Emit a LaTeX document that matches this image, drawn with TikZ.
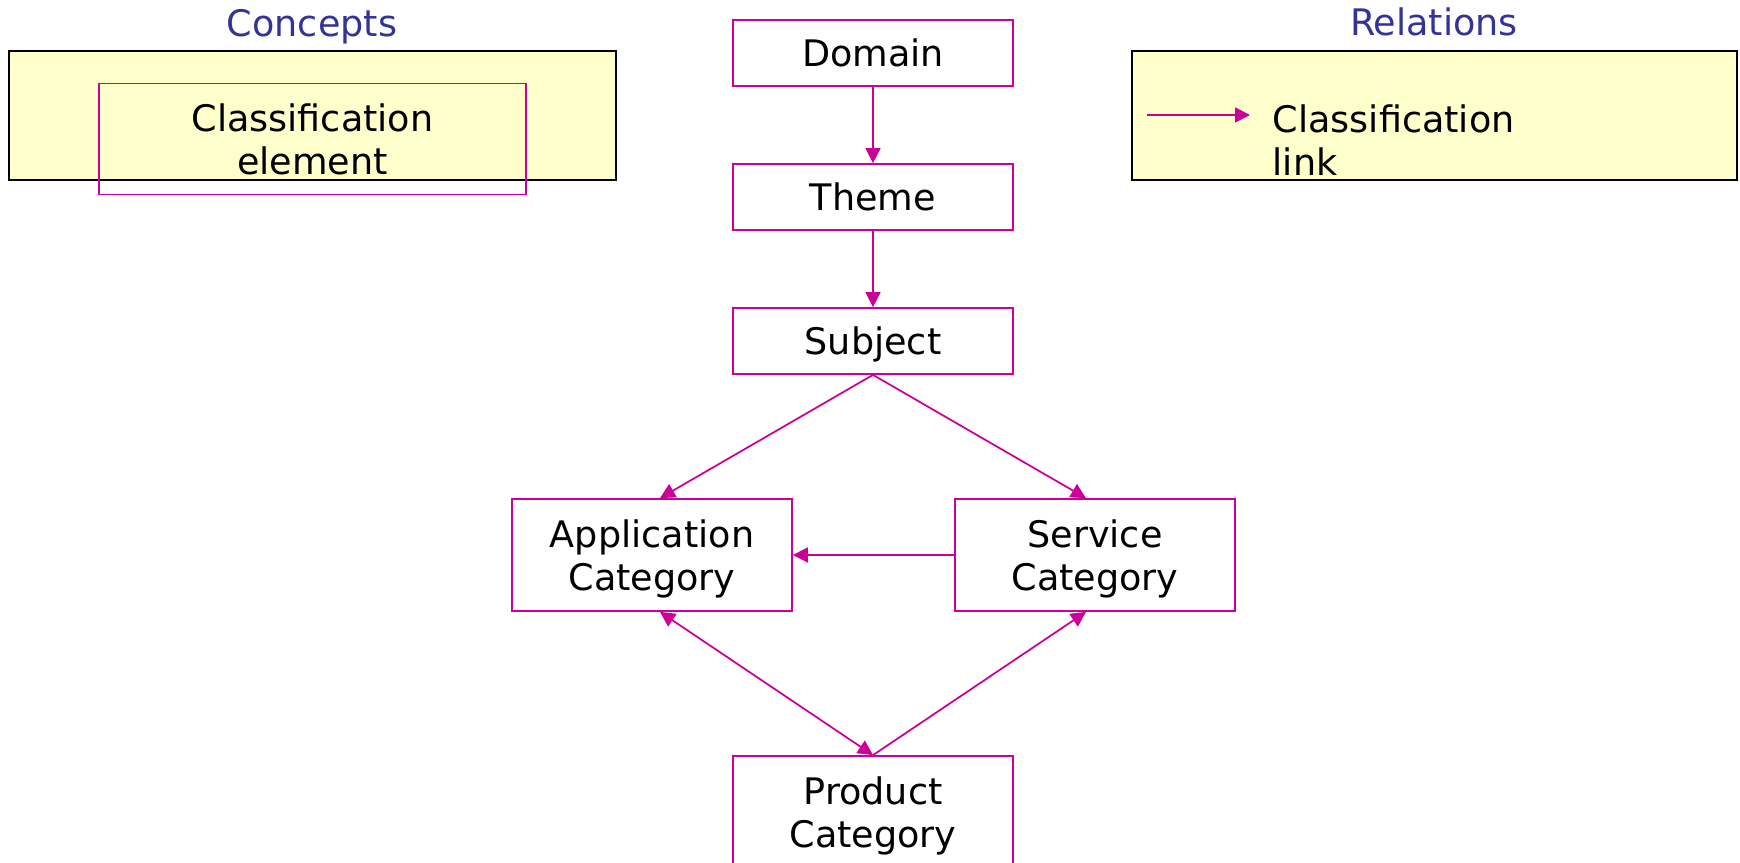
\documentclass[tikz,border=0pt]{standalone}
\usepackage{fontspec}
\setmainfont{DejaVu Sans}
\usetikzlibrary{arrows.meta}
\definecolor{linkpink}{HTML}{CC0099}
\definecolor{legendfill}{HTML}{FFFFCC}
\definecolor{titleblue}{HTML}{333399}
\begin{document}
\begin{tikzpicture}[
    every node/.style={font=\fontsize{10.4}{12.3}\selectfont},
    elem/.style={draw=linkpink, line width=0.5pt, minimum width=2.8cm, align=center, anchor=center, inner sep=0pt, text depth=0pt},
    legend/.style={draw=black, fill=legendfill, line width=0.6pt},
    title/.style={text=titleblue, anchor=base},
    arr/.style={-{Triangle[length=1.5mm,width=1.5mm]}, draw=linkpink, line width=0.5pt},
    darr/.style={{Triangle[length=1.5mm,width=1.5mm]}-{Triangle[length=1.5mm,width=1.5mm]}, draw=linkpink, line width=0.5pt}
]
\useasboundingbox (0, 0) rectangle (17.40, -8.63);
\begin{scope}
\clip (0, 0) rectangle (17.40, -8.63);

% Legend: concepts
\node[title] (conctitle) at (3.12, -0.36) {Concepts};
\draw[legend] (0.09, -0.51) rectangle (6.16, -1.80);
\node[elem, minimum width=4.27cm, minimum height=1.11cm] (elemkey) at (3.125, -1.39) {Classification\\element};

% Legend: relations
\node[title] (reltitle) at (14.34, -0.355) {Relations};
\draw[legend] (11.32, -0.51) rectangle (17.37, -1.80);
\coordinate (linkA) at (11.47, -1.15);
\coordinate (linkB) at (12.50, -1.15);
\draw[arr] (linkA) -- (linkB);
\node[align=left, anchor=north west, inner sep=0pt] (linktxt) at (12.72, -1.04) {Classification\\link};

% Hierarchy
\node[elem, minimum height=0.66cm] (domain) at (8.73, -0.53) {Domain};
\node[elem, minimum height=0.66cm] (theme) at (8.73, -1.97) {Theme};
\node[elem, minimum height=0.66cm] (subj) at (8.73, -3.41) {Subject};
\node[elem, minimum height=1.12cm] (app) at (6.52, -5.55) {Application\\Category};
\node[elem, minimum height=1.12cm] (serv) at (10.95, -5.55) {Service\\Category};
\node[elem, minimum height=1.12cm] (prod) at (8.73, -8.12) {Product\\Category};

% Links
\draw[arr] (domain.south) -- (theme.north);
\draw[arr] (theme.south) -- (subj.north);
\draw[arr] (subj.south) -- ([xshift=0.08cm]app.north);
\draw[arr] (subj.south) -- ([xshift=-0.09cm]serv.north);
\draw[arr] (serv.west) -- (app.east);
\draw[darr] ([xshift=0.08cm]app.south) -- (prod.north);
\draw[arr] (prod.north) -- ([xshift=-0.09cm]serv.south);
\end{scope}
\end{tikzpicture}
\end{document}
